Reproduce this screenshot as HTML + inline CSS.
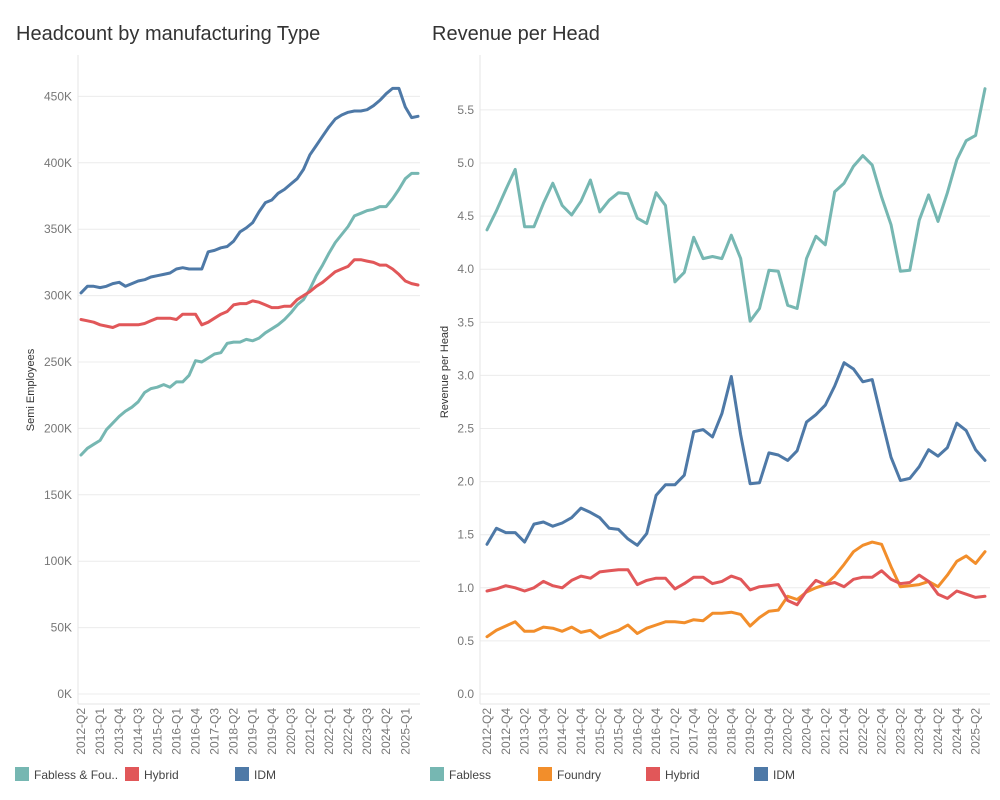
<!DOCTYPE html>
<html><head><meta charset="utf-8"><style>
body{margin:0;background:#fff;font-family:"Liberation Sans",sans-serif;}
svg{display:block}
text{font-family:"Liberation Sans",sans-serif}
</style></head><body>
<svg id="c" width="1000" height="800">
<text x="16" y="40" font-size="20" fill="#333">Headcount by manufacturing Type</text>
<text x="432" y="40" font-size="20" fill="#333">Revenue per Head</text>
<text transform="translate(34,390) rotate(-90)" text-anchor="middle" font-size="11" fill="#333">Semi Employees</text>
<text transform="translate(448,372) rotate(-90)" text-anchor="middle" font-size="11" fill="#333">Revenue per Head</text>
</svg>
<script>
const quarters=[];for(let y=2012;y<=2025;y++)for(let q=1;q<=4;q++){if(y===2012&&q===1)continue;if(y===2025&&q===4)continue;quarters.push(y+'-Q'+q);}
const headFabFoundry=[180,185,188,191,199,204,209,213,216,220,227,230,231,233,231,235,235,240,251,250,253,256,257,264,265,265,267,266,268,272,275,278,282,287,293,297,305,315,323,332,340,346,352,360,362,364,365,367,367,373,380,388,392,392];
const headHybrid=[282,281,280,278,277,276,278,278,278,278,279,281,283,283,283,282,286,286,286,278,280,283,286,288,293,294,294,296,295,293,291,291,292,292,297,300,303,307,310,314,318,320,322,327,327,326,325,323,323,320,316,311,309,308];
const headIDM=[302,307,307,306,307,309,310,307,309,311,312,314,315,316,317,320,321,320,320,320,333,334,336,337,341,348,351,355,363,370,372,377,380,384,388,395,406,413,420,427,433,436,438,439,439,440,443,447,452,456,456,442,434,435];
const revFabless=[4.37,4.55,4.75,4.94,4.40,4.40,4.62,4.81,4.60,4.51,4.64,4.84,4.54,4.65,4.72,4.71,4.48,4.43,4.72,4.60,3.88,3.97,4.30,4.10,4.12,4.10,4.32,4.10,3.51,3.63,3.99,3.98,3.66,3.63,4.10,4.31,4.23,4.73,4.81,4.97,5.07,4.98,4.68,4.42,3.98,3.99,4.46,4.70,4.45,4.72,5.03,5.21,5.26,5.70];
const revFoundry=[0.54,0.60,0.64,0.68,0.59,0.59,0.63,0.62,0.59,0.63,0.58,0.60,0.53,0.57,0.60,0.65,0.57,0.62,0.65,0.68,0.68,0.67,0.70,0.69,0.76,0.76,0.77,0.75,0.64,0.72,0.78,0.79,0.92,0.89,0.96,1.00,1.03,1.11,1.22,1.34,1.40,1.43,1.41,1.20,1.01,1.02,1.03,1.06,1.01,1.12,1.25,1.30,1.23,1.34];
const revHybrid=[0.97,0.99,1.02,1.00,0.97,1.00,1.06,1.02,1.00,1.07,1.11,1.09,1.15,1.16,1.17,1.17,1.03,1.07,1.09,1.09,0.99,1.04,1.10,1.10,1.04,1.06,1.11,1.08,0.98,1.01,1.02,1.03,0.88,0.84,0.97,1.07,1.03,1.05,1.01,1.08,1.10,1.10,1.16,1.08,1.04,1.05,1.12,1.06,0.94,0.90,0.97,0.94,0.91,0.92];
const revIDM=[1.41,1.56,1.52,1.52,1.43,1.60,1.62,1.58,1.61,1.66,1.75,1.71,1.66,1.56,1.55,1.46,1.40,1.51,1.87,1.97,1.97,2.06,2.47,2.49,2.42,2.64,2.99,2.44,1.98,1.99,2.27,2.25,2.20,2.29,2.56,2.63,2.72,2.90,3.12,3.06,2.94,2.96,2.59,2.23,2.01,2.03,2.14,2.30,2.24,2.32,2.55,2.48,2.30,2.20];
const leftTicks=[0,50,100,150,200,250,300,350,400,450];
const rightTicks=[0,0.5,1,1.5,2,2.5,3,3.5,4,4.5,5,5.5];
const NS='http://www.w3.org/2000/svg';const svg=document.getElementById('c');
function mk(t,a,p){const e=document.createElementNS(NS,t);for(const k in a)e.setAttribute(k,a[k]);(p||svg).appendChild(e);return e;}
function chart(o){
 const g=mk('g',{});
 
 
 const n=quarters.length;
 const xs=i=>o.x0+(o.x1-o.x0)*i/(n-1);
 const ys=v=>o.yb-(v-0)*o.ppu;
 o.ticks.forEach(t=>{
  const l=mk('line',{x1:o.left,x2:o.right,y1:ys(t),y2:ys(t),stroke:'#ececec','stroke-width':1},g);
  
  
  const tx=mk('text',{x:o.left-6,y:ys(t)+4,'text-anchor':'end','font-size':12,fill:'#777'},g);
  tx.textContent=o.fmt(t);
  
  
 });
 const ax=mk('line',{x1:o.left,x2:o.left,y1:55,y2:o.yb+10,stroke:'#e6e6e6'},g);
 
 
 const bx=mk('line',{x1:o.left,x2:o.right,y1:o.yb+10,y2:o.yb+10,stroke:'#e6e6e6'},g);
 
 
 quarters.forEach((q,i)=>{
  if(i%o.every!==0)return;
  const x=xs(i);
  const t=mk('text',{transform:`translate(${x+4},${o.yb+14}) rotate(-90)`,'text-anchor':'end','font-size':12,fill:'#777'},g);
  t.textContent=q;
  
  
 });
 o.series.forEach(s=>{
  const d=s.data.map((v,i)=>(i?'L':'M')+xs(i).toFixed(1)+','+ys(v).toFixed(1)).join('');
  const p=mk('path',{d:d,fill:'none',stroke:s.color,'stroke-width':3,'stroke-linejoin':'round','stroke-linecap':'round'},g);
  
  
 });
}
chart({name:'headcount-chart',left:78,right:420,x0:81,x1:418,yb:694,ppu:66.4/50,ticks:leftTicks,fmt:t=>t+'K',every:3,
 series:[{data:headFabFoundry,color:'#76b7b2',name:'line-fabless-foundry'},{data:headHybrid,color:'#e15759',name:'line-hybrid'},{data:headIDM,color:'#4e79a7',name:'line-idm'}]});
chart({name:'revenue-chart',left:480,right:990,x0:487,x1:985,yb:694,ppu:53.1/0.5,ticks:rightTicks,fmt:t=>t.toFixed(1),every:2,
 series:[{data:revFabless,color:'#76b7b2',name:'line-fabless'},{data:revFoundry,color:'#f28e2b',name:'line-foundry'},{data:revHybrid,color:'#e15759',name:'line-hybrid'},{data:revIDM,color:'#4e79a7',name:'line-idm'}]});
const legends=[[15,'#76b7b2','Fabless & Fou..'],[125,'#e15759','Hybrid'],[235,'#4e79a7','IDM'],[430,'#76b7b2','Fabless'],[538,'#f28e2b','Foundry'],[646,'#e15759','Hybrid'],[754,'#4e79a7','IDM']];
legends.forEach(l=>{
 const r=mk('rect',{x:l[0],y:767,width:14,height:14,fill:l[1]});
 
 
 const t=mk('text',{x:l[0]+19,y:779,'font-size':12,fill:'#444'});
 t.textContent=l[2];
 
 
});
</script>
</body></html>
